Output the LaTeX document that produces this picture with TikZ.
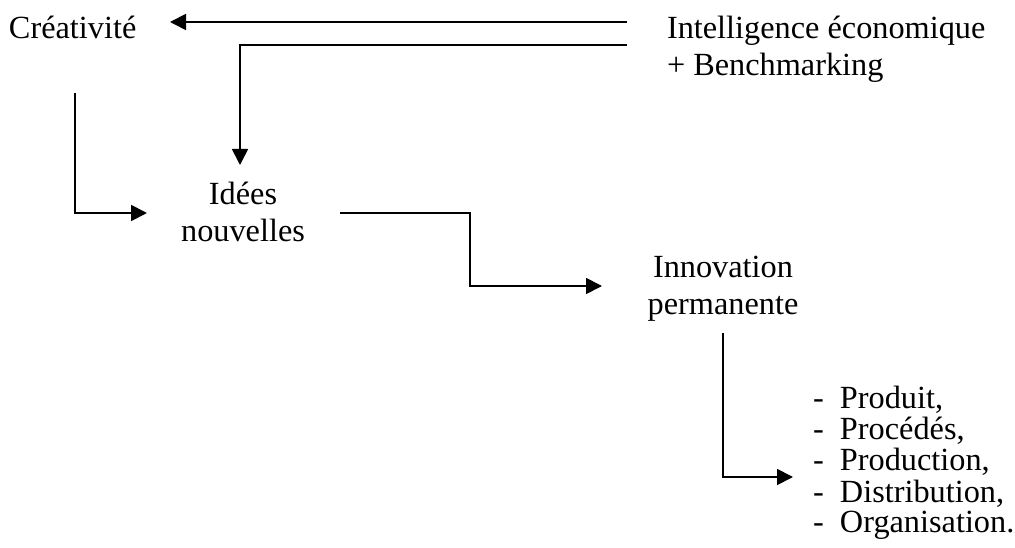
\documentclass[tikz,border=0pt]{standalone}
\usepackage{fontspec}
\setmainfont{Liberation Serif}
\usetikzlibrary{arrows.meta,calc}
\begin{document}
\begin{tikzpicture}[x=1pt,y=-1pt,
  every node/.style={inner sep=0pt,outer sep=0pt},
  label/.style={font=\fontsize{32.3}{37}\selectfont},
  listtext/.style={font=\fontsize{32.3}{30.2}\selectfont},
  flow/.style={line width=1.8pt,-{Triangle[length=16pt,width=16pt]}}]
  \useasboundingbox (0,0) rectangle (1015,548);

  % text blocks
  \node[label,anchor=base west] (crea) at (9,39) {Créativité};
  \node[label,anchor=base west] (intel) at (667,39)
    {\begin{tabular}[t]{@{}l@{}}Intelligence économique\\+ Benchmarking\end{tabular}};
  \node[label,anchor=base] (idees) at (243,205)
    {\begin{tabular}[t]{@{}c@{}}Idées\\nouvelles\end{tabular}};
  \node[label,anchor=base] (innov) at (723,277)
    {\begin{tabular}[t]{@{}c@{}}Innovation\\permanente\end{tabular}};
  \node[listtext,anchor=base west] (list) at (813,408)
    {\begin{tabular}[t]{@{}l@{}}
      \makebox[27pt][l]{-}Produit,\\
      \makebox[27pt][l]{-}Procédés,\\
      \makebox[27pt][l]{-}Production,\\
      \makebox[27pt][l]{-}Distribution,\\
      \makebox[27pt][l]{-}Organisation.
    \end{tabular}};

  % connectors
  \draw[flow] ($(intel.base west)+(-40,-17)$) -- ($(crea.base west)+(161,-17)$);
  \draw[flow] ($(intel.base west)+(-40,6)$) -| ($(idees.base)+(-3,-40)$);
  \draw[flow] ($(crea.base west)+(66,54)$) |- ($(idees.base)+(-96,8)$);
  \draw[flow] ($(idees.base)+(97,8)$) -- ++(130,0) |- ($(innov.base)+(-121,9)$);
  \draw[flow] ($(innov.base)+(0,56)$) |- ($(list.base west)+(-20,69)$);
\end{tikzpicture}
\end{document}
